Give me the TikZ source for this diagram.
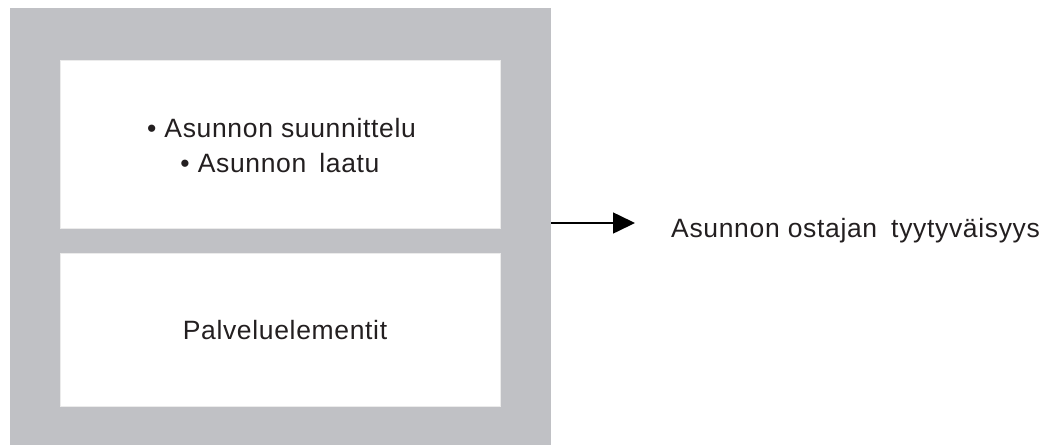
\documentclass[tikz,border=0pt]{standalone}
\usepackage{fontspec}
\setmainfont{Liberation Sans}[LetterSpace=2.5]
\usetikzlibrary{arrows.meta}
\definecolor{panelgray}{HTML}{C0C1C5}
\definecolor{inkgray}{HTML}{231F20}
\tikzset{
  panel/.style={fill=panelgray, draw=none, inner sep=0pt, anchor=north west},
  whitebox/.style={fill=white, draw=white!92!black, line width=0.6pt, inner sep=0pt, anchor=north west},
  label/.style={text=inkgray, inner sep=0pt, font=\fontsize{26.5}{30}\selectfont},
  arrowline/.style={draw=black, line width=1.6pt, -{Triangle[length=22pt,width=21pt]}}
}
\begin{document}
\begin{tikzpicture}[x=1pt,y=-1pt]
\useasboundingbox (0,0) rectangle (1047,445);
\node[panel, minimum width=541pt, minimum height=437pt] (outer) at (10,8) {};
\node[whitebox, minimum width=440pt, minimum height=168pt] (topbox) at (60,60) {};
\node[whitebox, minimum width=440pt, minimum height=153pt] (botbox) at (60,253) {};
\node[label, anchor=base] (l1) at (281.5,137) {• Asunnon suunnittelu};
\node[label, anchor=base] (l2) at (280,172) {• Asunnon\hspace{5pt} laatu};
\node[label, anchor=base] (l3) at (285,339) {Palveluelementit};
\node[label, anchor=base west] (goal) at (671,237) {Asunnon ostajan\hspace{6pt} tyytyväisyys};
\coordinate (tip) at (635,223);
\draw[arrowline] (outer.east |- tip) -- (tip);
\end{tikzpicture}
\end{document}
